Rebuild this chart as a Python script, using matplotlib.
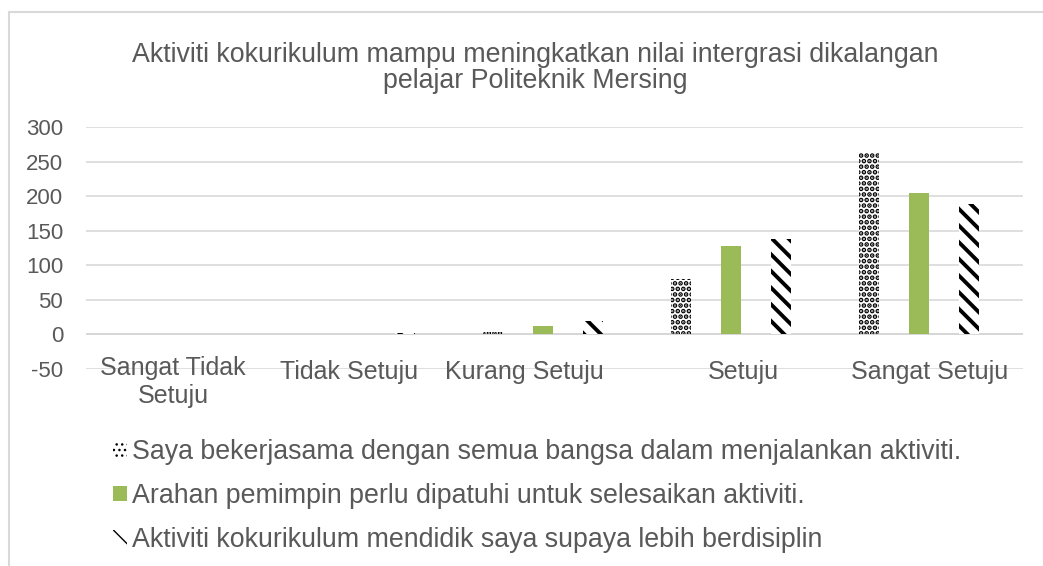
import matplotlib
matplotlib.use("Agg")
import matplotlib.pyplot as plt
import numpy as np
from matplotlib.patches import Rectangle

plt.rcParams['font.family'] = ['Liberation Sans', 'DejaVu Sans']

categories = ["Sangat Tidak\nSetuju", "Tidak Setuju", "Kurang Setuju", "Setuju", "Sangat Setuju"]
series_names = [
    "Saya bekerjasama dengan semua bangsa dalam menjalankan aktiviti.",
    "Arahan pemimpin perlu dipatuhi untuk selesaikan aktiviti.",
    "Aktiviti kokurikulum mendidik saya supaya lebih berdisiplin",
]
dots_vals = [0, 0, 3, 80, 262]
green_vals = [0, 1, 12, 128, 204]
hatch_vals = [0, 2, 20, 138, 188]
yticks = [-50, 0, 50, 100, 150, 200, 250, 300]
title = "Aktiviti kokurikulum mampu meningkatkan nilai intergrasi dikalangan\npelajar Politeknik Mersing"

text_col = "#595959"
grid_col = "#d9d9d9"
green = "#9bbb59"
FS = 19.3
CAT_FS = 18

W, H = 1043, 566
fig = plt.figure(figsize=(W / 100, H / 100), dpi=100)

# outer chart border
fig.patches.append(Rectangle((9 / W, -0.01), 1.2, 1 - 12 / H + 0.01, transform=fig.transFigure,
                             fill=False, edgecolor=grid_col, linewidth=1.5))

ax_l, ax_r = 86, 1023
ax_t, ax_b = 127, 369
ax = fig.add_axes([ax_l / W, 1 - ax_b / H, (ax_r - ax_l) / W, (ax_b - ax_t) / H])

x = np.arange(len(categories))
bw = 0.106
off = 0.266
DOT_HATCH = "..."
DIAG_HATCH = "\\\\"

with plt.rc_context({'hatch.linewidth': 2.4}):
    ax.bar(x - off, dots_vals, bw, facecolor="white", edgecolor="black", hatch=DOT_HATCH, linewidth=0)
    h_dots = Rectangle((0, 0), 1, 1, facecolor="white", edgecolor="black", hatch=DOT_HATCH, linewidth=0)
ax.bar(x, green_vals, bw, color=green, linewidth=0)
h_green = Rectangle((0, 0), 1, 1, facecolor=green, linewidth=0)
with plt.rc_context({'hatch.linewidth': 2.8}):
    ax.bar(x + off, hatch_vals, bw, facecolor="white", edgecolor="black", hatch=DIAG_HATCH, linewidth=0)
    h_diag = Rectangle((0, 0), 1, 1, facecolor="white", edgecolor="black", hatch=DIAG_HATCH, linewidth=0)

ax.set_ylim(-50, 300)
ax.set_xlim((ax_l - 167) / 188, (ax_r - 167) / 188)
ax.set_yticks(yticks)
ax.set_yticklabels([str(v) for v in yticks])
ax.tick_params(axis='y', length=0, pad=16.5, labelsize=16, labelcolor=text_col)
ax.set_xticks([])
for s in ax.spines.values():
    s.set_visible(False)
ax.grid(axis='y', color=grid_col, linewidth=1.2)
ax.set_axisbelow(True)
ax.axhline(0, color="#cfcfcf", linewidth=1.4, zorder=0.5)

label_shift = [0.032, -0.032, -0.10, 0.064, 0.058]
for i, c in enumerate(categories):
    if "\n" in c:
        ax.text(x[i] + label_shift[i], -31.5, c, ha='center', va='top', fontsize=CAT_FS,
                color=text_col, linespacing=1.2)
    else:
        ax.text(x[i] + label_shift[i], -50, c, ha='center', va='center_baseline',
                fontsize=CAT_FS, color=text_col)

fig.text(535 / W, 1 - 68 / H, title, ha='center', va='center', fontsize=FS,
         color=text_col, linespacing=1.05)

fig.legend([h_dots, h_green, h_diag], series_names, loc='upper left',
           bbox_to_anchor=(113 / W, 1 - 439 / H),
           frameon=False, fontsize=FS, labelcolor=text_col, handlelength=0.52,
           handleheight=0.52, handletextpad=0.19, labelspacing=0.67, borderaxespad=0,
           borderpad=0)

fig.savefig("out.png", dpi=100)
